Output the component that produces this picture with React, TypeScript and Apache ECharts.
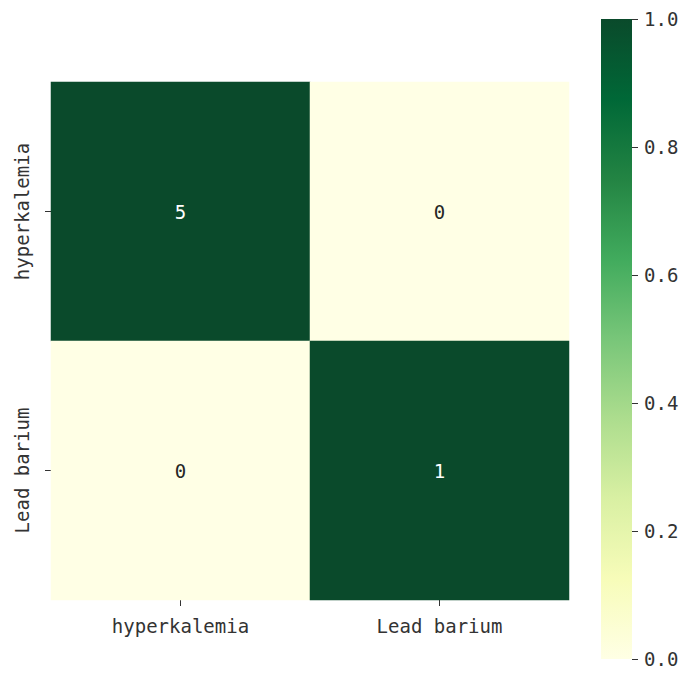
import React, { useEffect, useRef } from "react";
import * as echarts from "echarts";

const categories = ["hyperkalemia", "Lead barium"];
const counts = [
  [5, 0],
  [0, 1],
];
const normalized = [
  [1, 0],
  [0, 1],
];
const colorbarValue = [1];
const ylgn = ["#ffffe5", "#f7fcb9", "#d9f0a3", "#addd8e", "#78c679", "#41ab5d", "#238443", "#006837", "#0a4a2b"];

const FONT = "'DejaVu Sans Mono', monospace";

export default function App() {
  const ref = useRef<HTMLDivElement>(null);
  useEffect(() => {
    if (!ref.current) return;
    const chart = echarts.init(ref.current, undefined, { renderer: "svg" });
    const data: any[] = [];
    for (let r = 0; r < categories.length; r++) {
      for (let c = 0; c < categories.length; c++) {
        const v = normalized[r][c];
        data.push({
          value: [c, r, v, counts[r][c]],
          label: { color: v > 0.5 ? "#ffffff" : "#262626" },
        });
      }
    }
    const stops = ylgn.map((col, i) => ({ offset: i / (ylgn.length - 1), color: col }));
    chart.setOption({
      animation: false,
      backgroundColor: "#ffffff",
      textStyle: { fontFamily: FONT },
      grid: [
        { left: 51, top: 82, width: 518, height: 518 },
        { left: 601, top: 19, width: 31, height: 640 },
      ],
      xAxis: [
        {
          type: "category",
          data: categories,
          gridIndex: 0,
          position: "bottom",
          axisLine: { show: false },
          axisTick: { show: true, alignWithLabel: true, length: 6, lineStyle: { color: "#333", width: 1 } },
          axisLabel: { fontFamily: FONT, fontSize: 19, color: "#333", margin: 16 },
          splitLine: { show: false },
        },
        {
          type: "category",
          data: ["c"],
          gridIndex: 1,
          show: false,
        },
      ],
      yAxis: [
        {
          type: "category",
          data: categories,
          gridIndex: 0,
          inverse: true,
          axisLine: { show: false },
          axisTick: { show: true, alignWithLabel: true, length: 6, lineStyle: { color: "#333", width: 1 } },
          axisLabel: { fontFamily: FONT, fontSize: 19, color: "#333", rotate: 90, margin: 20 },
          splitLine: { show: false },
        },
        {
          type: "value",
          gridIndex: 1,
          position: "right",
          min: 0,
          max: 1,
          interval: 0.2,
          axisLine: { show: false },
          axisTick: { show: true, length: 6, lineStyle: { color: "#333", width: 1 } },
          axisLabel: {
            fontFamily: FONT,
            fontSize: 19,
            color: "#333",
            margin: 12,
            formatter: (v: number) => v.toFixed(1),
          },
          splitLine: { show: false },
        },
      ],
      visualMap: {
        show: false,
        seriesIndex: 0,
        dimension: 2,
        min: 0,
        max: 1,
        inRange: { color: ylgn },
      },
      series: [
        {
          type: "heatmap",
          xAxisIndex: 0,
          yAxisIndex: 0,
          data,
          label: {
            show: true,
            fontFamily: FONT,
            fontSize: 19,
            formatter: (p: any) => String(p.data.value[3]),
          },
          emphasis: { disabled: true },
        },
        {
          type: "bar",
          xAxisIndex: 1,
          yAxisIndex: 1,
          data: colorbarValue,
          barWidth: "100%",
          itemStyle: { color: new echarts.graphic.LinearGradient(0, 1, 0, 0, stops) },
          silent: true,
        },
      ],
    });
    return () => chart.dispose();
  }, []);
  return <div ref={ref} style={{ position: "fixed", left: 0, top: 0, width: 685, height: 673 }} />;
}
